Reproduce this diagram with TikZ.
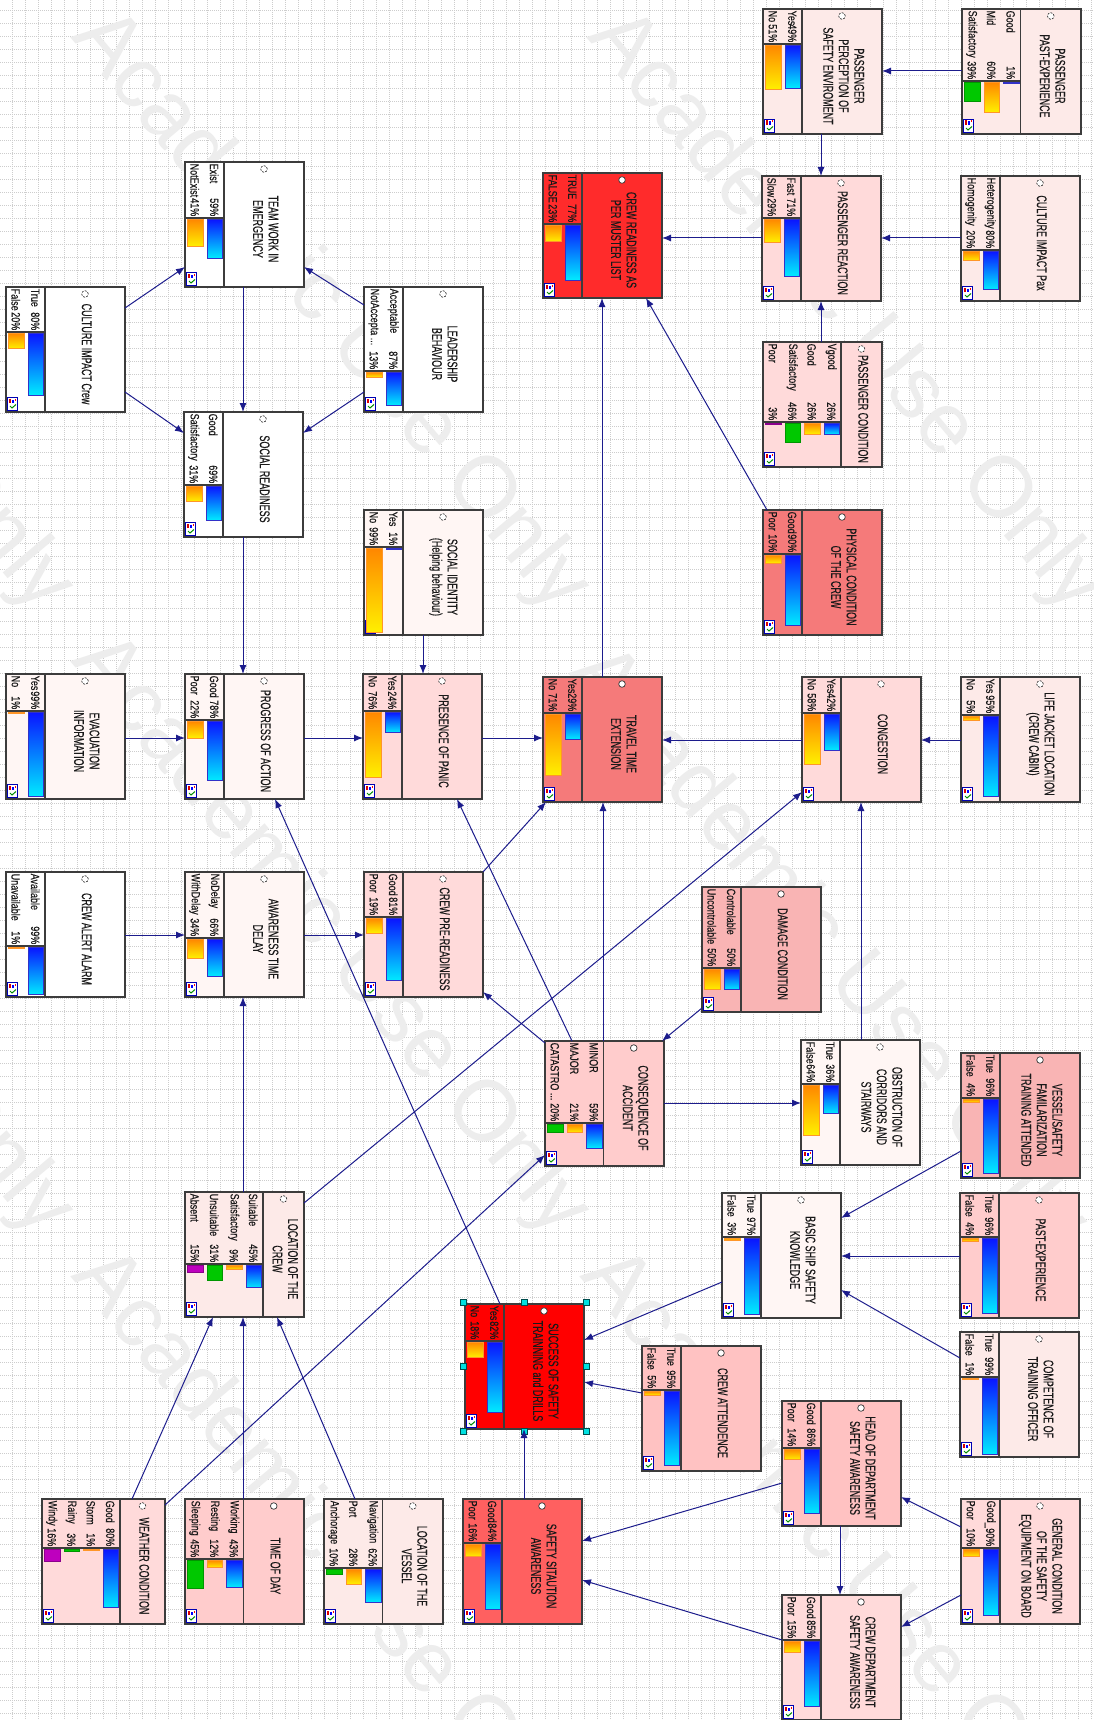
\documentclass[tikz,border=0pt]{standalone}
\usepackage{fontspec}
\setmainfont{Liberation Sans}
\newfontfamily\lfont{Liberation Sans}[FakeBold=0.35]
\usepackage{graphicx}
\usetikzlibrary{arrows.meta,calc}

\definecolor{edgec}{RGB}{28,28,140}
\definecolor{boxc}{RGB}{60,60,60}
\definecolor{bluetop}{RGB}{10,20,255}
\definecolor{bluebot}{RGB}{0,235,255}
\definecolor{bluedr}{RGB}{50,50,200}
\definecolor{ortop}{RGB}{255,135,0}
\definecolor{orbot}{RGB}{255,240,0}
\definecolor{ordr}{RGB}{255,150,40}
\definecolor{grf}{RGB}{0,200,0}
\definecolor{grd}{RGB}{0,150,0}
\definecolor{mgf}{RGB}{190,0,190}
\definecolor{mgd}{RGB}{140,0,140}
\definecolor{fW}{RGB}{255,255,255}
\definecolor{fA}{RGB}{255,246,244}
\definecolor{fB}{RGB}{253,234,232}
\definecolor{fC}{RGB}{255,218,218}
\definecolor{fD}{RGB}{255,204,204}
\definecolor{fDD}{RGB}{255,194,194}
\definecolor{fE}{RGB}{249,180,180}
\definecolor{fF}{RGB}{245,122,122}
\definecolor{fG}{RGB}{255,96,96}
\definecolor{fH}{RGB}{255,43,43}
\definecolor{fI}{RGB}{255,0,0}
\definecolor{gridc}{RGB}{205,205,205}
\definecolor{wmc}{RGB}{237,237,237}
\definecolor{hdl}{RGB}{0,225,225}

\newcommand{\bnicon}[2]{%
  \pgfmathsetmacro\ix{#1}\pgfmathsetmacro\iy{#2}%
  \draw[fill=white, draw=blue!70!black, line width=0.7pt] (\ix,\iy) rectangle (\ix+10,\iy+13);
  \fill[red!85!black] (\ix+1.5,\iy+1.5) rectangle (\ix+3.5,\iy+6);
  \fill[blue] (\ix+4.5,\iy+2.5) rectangle (\ix+6,\iy+6);
  \fill[red] (\ix+7,\iy+1.5) rectangle (\ix+8.5,\iy+3.5);
  \draw[green!55!black, line width=1pt] (\ix+2.5,\iy+9) -- (\ix+4.5,\iy+11) -- (\ix+8.5,\iy+7.5);
}

% #1 name #2 x0 #3 y0 #4 width #5 fill #6 states #7 label height #8 title #9 circle style
\newcommand{\bn}[9]{%
  \pgfmathsetmacro\bx{#2}%
  \pgfmathsetmacro\by{#3}%
  \pgfmathsetmacro\bww{#4}%
  \pgfmathsetmacro\bs{19.5*#6}%
  \pgfmathsetmacro\bL{#7}%
  \node[boxs, fill=#5, anchor=north west, minimum width=#4pt] (#1) at (\bx,\by) {};
  \draw[divl] (\bx+\bs,\by) -- (\bx+\bs,\by+125);
  \draw[divl] (\bx,\by+\bL) -- (\bx+\bs,\by+\bL);
  \pgfmathsetmacro\tc{\bx+(\bs+\bww)/2}%
  \draw[#9] (\tc,\by+7) circle[radius=3.3pt];
  \node[ttl] at (\tc,\by+67) {\scalebox{0.64}[1]{\begin{tabular}{@{}c@{}}#8\end{tabular}}};
  \bnicon{\bx+1.5}{\by+110}%
}

% #1 index #2 state name #3 percent
\newcommand{\st}[3]{%
  \pgfmathsetmacro\cl{\bx+\bs-19.5*(#1+1)}%
  \pgfmathsetmacro\cc{\cl+9.75}%
  \node[lab, anchor=west] at (\cc,\by+1.5) {\scalebox{0.75}[1]{#2}};
  \node[lab, anchor=east] at (\cc,\by+\bL-1.5) {\scalebox{0.75}[1]{#3\%}};
  \pgfmathsetmacro\blen{max(1.3,#3/100*(125-\bL-3))}%
  \pgfmathsetmacro\bya{\by+\bL+1.2}%
  \ifcase#1
    \shadedraw[top color=bluetop,bottom color=bluebot,draw=bluedr,line width=0.6pt] (\cl+2.5,\bya) rectangle (\cl+18,\bya+\blen);
  \or
    \shadedraw[top color=ortop,bottom color=orbot,draw=ordr,line width=0.6pt] (\cl+2.5,\bya) rectangle (\cl+18,\bya+\blen);
  \or
    \filldraw[fill=grf,draw=grd,line width=0.6pt] (\cl+2.5,\bya) rectangle (\cl+18,\bya+\blen);
  \else
    \filldraw[fill=mgf,draw=mgd,line width=0.6pt] (\cl+2.5,\bya) rectangle (\cl+18,\bya+\blen);
  \fi
}

\newcommand{\ed}[6]{\draw[edge] ($(#1.north west)+(#2,#3)$) -- ($(#4.north west)+(#5,#6)$);}

\begin{document}
\begin{tikzpicture}[x=1pt,y=-1pt,
  boxs/.style={draw=boxc, line width=1.3pt, inner sep=0pt, outer sep=0pt, minimum height=125pt},
  divl/.style={draw=boxc, line width=1.1pt},
  ttl/.style={font=\lfont\fontsize{14}{15.5}\selectfont, text=black!90, inner sep=0pt, rotate=-90},
  lab/.style={font=\lfont\fontsize{12}{12}\selectfont, text=black!90, inner sep=0pt, rotate=-90},
  edge/.style={draw=edgec, line width=1pt, -{Latex[length=9pt,width=7pt]}},
  gridl/.style={draw=gridc, line width=0.5pt, dash pattern=on 1pt off 1pt},
  wm/.style={font=\fontsize{86}{86}\selectfont, text=wmc, rotate=-50, anchor=west, inner sep=0pt},
  cevid/.style={draw=black!80, fill=white, line width=0.7pt},
  cnorm/.style={draw=black!80, fill=white, line width=0.7pt, dash pattern=on 2pt off 1.3pt},
  handle/.style={draw=teal!60!black, fill=hdl, line width=0.5pt, minimum size=6pt, inner sep=0pt, outer sep=0pt},
]
\useasboundingbox (0,0) rectangle (1094,1720);
\clip (0,0) rectangle (1094,1720);
\fill[white] (0,0) rectangle (1094,1720);
\foreach \gx in {12,25,...,1094} \draw[gridl] (\gx,0) -- (\gx,1720);
\foreach \gy in {10,23,...,1720} \draw[gridl] (0,\gy) -- (1094,\gy);

% watermark
\node[wm] (w1) at (87,23) {Academic Use Only};
\node[wm] (w2) at (603,23) {Academic Use Only};
\node[wm] (w3) at (87,647) {Academic Use Only};
\node[wm] (w4) at (585,659) {Academic Use Only};
\node[wm] (w5) at (87,1262) {Academic Use Only};
\node[wm] (w6) at (596,1262) {Academic Use Only};
\node[wm] (w7) at (-429,23) {Academic Use Only};
\node[wm] (w8) at (-429,647) {Academic Use Only};

% nodes
\bn{ppse}{763}{9}{119}{fB}{2}{35}{PASSENGER\\PERCEPTION OF\\SAFETY ENVIROMENT}{cnorm}
\st{0}{Yes}{49}\st{1}{No}{51}
\bn{ppx}{962}{9}{119}{fB}{3}{72}{PASSENGER\\PAST-EXPERIENCE}{cnorm}
\st{0}{Good}{1}\st{1}{Mid}{60}\st{2}{Satisfactory}{39}
\bn{crm}{543}{173}{119}{fH}{2}{51}{CREW READINESS AS\\PER MUSTER LIST}{cevid}
\st{0}{TRUE}{77}\st{1}{FALSE}{23}
\bn{prc}{762}{176}{119}{fC}{2}{42}{PASSENGER REACTION}{cnorm}
\st{0}{Fast}{71}\st{1}{Slow}{29}
\bn{cip}{961}{176}{119}{fB}{2}{74}{CULTURE IMPACT Pax}{cnorm}
\st{0}{Heterogenity}{80}\st{1}{Homogenity}{20}
\bn{pco}{763}{342}{119}{fC}{4}{80}{PASSENGER CONDITION}{cnorm}
\st{0}{Vgood}{26}\st{1}{Good}{26}\st{2}{Satisfactory}{46}\st{3}{Poor}{3}
\bn{pcc}{763}{510}{119}{fF}{2}{44}{PHYSICAL CONDITION\\OF THE CREW}{cevid}
\st{0}{Good}{90}\st{1}{Poor}{10}
\bn{twe}{185}{162}{119}{fW}{2}{56}{TEAM WORK IN\\EMERGENCY}{cnorm}
\st{0}{Exist}{59}\st{1}{NotExist}{41}
\bn{cic}{6}{287}{119}{fW}{2}{45}{CULTURE IMPACT Crew}{cnorm}
\st{0}{True}{80}\st{1}{False}{20}
\bn{lbe}{364}{287}{119}{fW}{2}{84}{LEADERSHIP\\BEHAVIOUR}{cnorm}
\st{0}{Acceptable}{87}\st{1}{NotAccepta ...}{13}
\bn{sre}{184}{412}{119}{fW}{2}{73}{SOCIAL READINESS}{cnorm}
\st{0}{Good}{69}\st{1}{Satisfactory}{31}
\bn{sid}{364}{510}{119}{fA}{2}{37}{SOCIAL IDENTITY\\(Helping behaviour)}{cnorm}
\st{0}{Yes}{1}\st{1}{No}{99}
\bn{evi}{6}{674}{119}{fA}{2}{37}{EVACUATION\\INFORMATION}{cnorm}
\st{0}{Yes}{99}\st{1}{No}{1}
\bn{poa}{185}{674}{119}{fA}{2}{46}{PROGRESS OF ACTION}{cnorm}
\st{0}{Good}{78}\st{1}{Poor}{22}
\bn{pop}{363}{674}{119}{fC}{2}{37}{PRESENCE OF PANIC}{cnorm}
\st{0}{Yes}{24}\st{1}{No}{76}
\bn{caa}{6}{872}{119}{fW}{2}{74}{CREW ALERT ALARM}{cnorm}
\st{0}{Available}{99}\st{1}{Unavailable}{1}
\bn{atd}{185}{872}{119}{fA}{2}{66}{AWARENESS TIME\\DELAY}{cnorm}
\st{0}{NoDelay}{66}\st{1}{WithDelay}{34}
\bn{cpr}{364}{872}{119}{fC}{2}{45}{CREW PRE-READINESS}{cnorm}
\st{0}{Good}{81}\st{1}{Poor}{19}
\bn{tte}{543}{677}{119}{fF}{2}{36}{TRAVEL TIME\\EXTENSION}{cevid}
\st{0}{Yes}{29}\st{1}{No}{71}
\bn{con}{802}{677}{119}{fC}{2}{36}{CONGESTION}{cnorm}
\st{0}{Yes}{42}\st{1}{No}{58}
\bn{ljl}{961}{677}{119}{fB}{2}{38}{LIFE JACKET LOCATION\\(CREW CABIN)}{cnorm}
\st{0}{Yes}{95}\st{1}{No}{5}
\bn{dco}{702}{887}{119}{fE}{2}{81}{DAMAGE CONDITION}{cevid}
\st{0}{Controlable}{50}\st{1}{Uncontrolable}{50}
\bn{coa}{545}{1041}{119}{fD}{3}{82}{CONSEQUENCE OF\\ACCIDENT}{cevid}
\st{0}{MINOR}{59}\st{1}{MAJOR}{21}\st{2}{CATASTRO ...}{20}
\bn{obs}{801}{1040}{119}{fA}{2}{44}{OBSTRUCTION OF\\CORRIDORS AND\\STAIRWAYS}{cnorm}
\st{0}{True}{36}\st{1}{False}{64}
\bn{vsf}{961}{1053}{119}{fE}{2}{45}{VESSEL/SAFETY\\FAMILARIZATION\\TRAINING ATTENDED}{cevid}
\st{0}{True}{96}\st{1}{False}{4}
\bn{bsk}{722}{1193}{119}{fA}{2}{44}{BASIC SHIP SAFETY\\KNOWLEDGE}{cnorm}
\st{0}{True}{97}\st{1}{False}{3}
\bn{pex}{960}{1193}{119}{fD}{2}{44}{PAST-EXPERIENCE}{cnorm}
\st{0}{True}{96}\st{1}{False}{4}
\bn{cto}{960}{1332}{119}{fB}{2}{45}{COMPETENCE OF\\TRAINING OFFICER}{cnorm}
\st{0}{True}{99}\st{1}{False}{1}
\bn{cat}{642}{1346}{119}{fDD}{2}{44}{CREW ATTENDENCE}{cevid}
\st{0}{True}{95}\st{1}{False}{5}
\bn{sst}{465}{1304}{119}{fI}{2}{37}{SUCCESS OF SAFETY\\TRAINNING and DRILLS}{cevid}
\st{0}{Yes}{82}\st{1}{No}{18}
\bn{ssa}{463}{1499}{119}{fG}{2}{44}{SAFETY SITAUTION\\AWARENESS}{cevid}
\st{0}{Good}{84}\st{1}{Poor}{16}
\bn{hds}{782}{1401}{119}{fDD}{2}{47}{HEAD OF DEPARTMENT\\SAFETY AWARENESS}{cevid}
\st{0}{Good}{86}\st{1}{Poor}{14}
\bn{cds}{782}{1595}{119}{fC}{2}{45}{CREW DEPARTMENT\\SAFETY AWARENESS}{cevid}
\st{0}{Good}{85}\st{1}{Poor}{15}
\bn{gcs}{961}{1499}{119}{fC}{2}{49}{GENERAL CONDITION\\OF THE SAFETY\\EQUIPMENT ON BOARD}{cnorm}
\st{0}{Good\_}{90}\st{1}{Poor}{10}
\bn{wco}{42}{1499}{123}{fC}{4}{49}{WEATHER CONDITION}{cnorm}
\st{0}{Good}{80}\st{1}{Storm}{1}\st{2}{Rainy}{3}\st{3}{Windy}{16}
\bn{tod}{185}{1499}{119}{fD}{3}{60}{TIME OF DAY}{cevid}
\st{0}{Working}{43}\st{1}{Resting}{12}\st{2}{Sleeping}{45}
\bn{lov}{324}{1499}{119}{fB}{3}{69}{LOCATION OF THE\\VESSEL}{cnorm}
\st{0}{Navigation}{62}\st{1}{Port}{28}\st{2}{Anchorage}{10}
\bn{loc}{185}{1192}{119}{fB}{4}{72}{LOCATION OF THE\\CREW}{cnorm}
\st{0}{Suitable}{45}\st{1}{Satisfactory}{9}\st{2}{Unsuitable}{31}\st{3}{Absent}{15}

% selection handles
\node[handle] (h1) at ($(sst.north west)+(-2,-2)$) {};
\node[handle] (h2) at ($(sst.north)+(0,-2)$) {};
\node[handle] (h3) at ($(sst.north east)+(2,-2)$) {};
\node[handle] (h4) at ($(sst.west)+(-2,0)$) {};
\node[handle] (h5) at ($(sst.east)+(2,0)$) {};
\node[handle] (h6) at ($(sst.south west)+(-2,2)$) {};
\node[handle] (h7) at ($(sst.south)+(0,2)$) {};
\node[handle] (h8) at ($(sst.south east)+(2,2)$) {};

% connectors
\ed{ppx}{0}{62}{ppse}{119}{62}
\ed{ppse}{58}{125}{prc}{59}{0}
\ed{prc}{0}{62}{crm}{119}{65}
\ed{cip}{0}{62}{prc}{119}{62}
\ed{pco}{58}{0}{prc}{59}{125}
\ed{pcc}{4}{0}{crm}{103}{125}
\ed{tte}{59}{0}{crm}{59}{125}
\ed{con}{0}{63}{tte}{119}{63}
\ed{ljl}{0}{63}{con}{119}{63}
\ed{pop}{119}{64}{tte}{0}{61}
\ed{poa}{119}{64}{pop}{0}{64}
\ed{evi}{119}{64}{poa}{0}{64}
\ed{sre}{59}{125}{poa}{58}{0}
\ed{sid}{59}{125}{pop}{60}{0}
\ed{twe}{58}{125}{sre}{59}{0}
\ed{cic}{119}{21}{twe}{0}{105}
\ed{cic}{119}{105}{sre}{0}{21}
\ed{lbe}{0}{18}{twe}{119}{105}
\ed{lbe}{0}{105}{sre}{119}{21}
\ed{caa}{119}{63}{atd}{0}{63}
\ed{atd}{119}{63}{cpr}{0}{63}
\ed{loc}{58}{0}{atd}{58}{125}
\ed{cpr}{119}{0}{tte}{3}{125}
\ed{coa}{0}{2}{cpr}{119}{120}
\ed{coa}{27}{0}{pop}{94}{125}
\ed{coa}{58}{0}{tte}{60}{125}
\ed{dco}{0}{121}{coa}{117}{0}
\ed{coa}{119}{62}{obs}{0}{63}
\ed{obs}{60}{0}{con}{59}{125}
\ed{loc}{119}{11}{con}{0}{115}
\ed{sst}{35}{0}{poa}{90}{125}
\ed{bsk}{0}{89}{sst}{119}{36}
\ed{cat}{0}{47}{sst}{119}{78}
\ed{ssa}{61}{0}{sst}{59}{125}
\ed{vsf}{0}{98}{bsk}{119}{25}
\ed{pex}{0}{63}{bsk}{119}{63}
\ed{cto}{0}{26}{bsk}{119}{97}
\ed{hds}{0}{82}{ssa}{119}{42}
\ed{cds}{0}{45}{ssa}{119}{81}
\ed{hds}{58}{125}{cds}{58}{0}
\ed{gcs}{0}{28}{hds}{119}{96}
\ed{gcs}{0}{96}{cds}{119}{32}
\ed{wco}{90}{0}{loc}{28}{125}
\ed{wco}{123}{6}{coa}{0}{114}
\ed{tod}{58}{0}{loc}{58}{125}
\ed{lov}{31}{0}{loc}{92}{125}
\end{tikzpicture}
\end{document}
